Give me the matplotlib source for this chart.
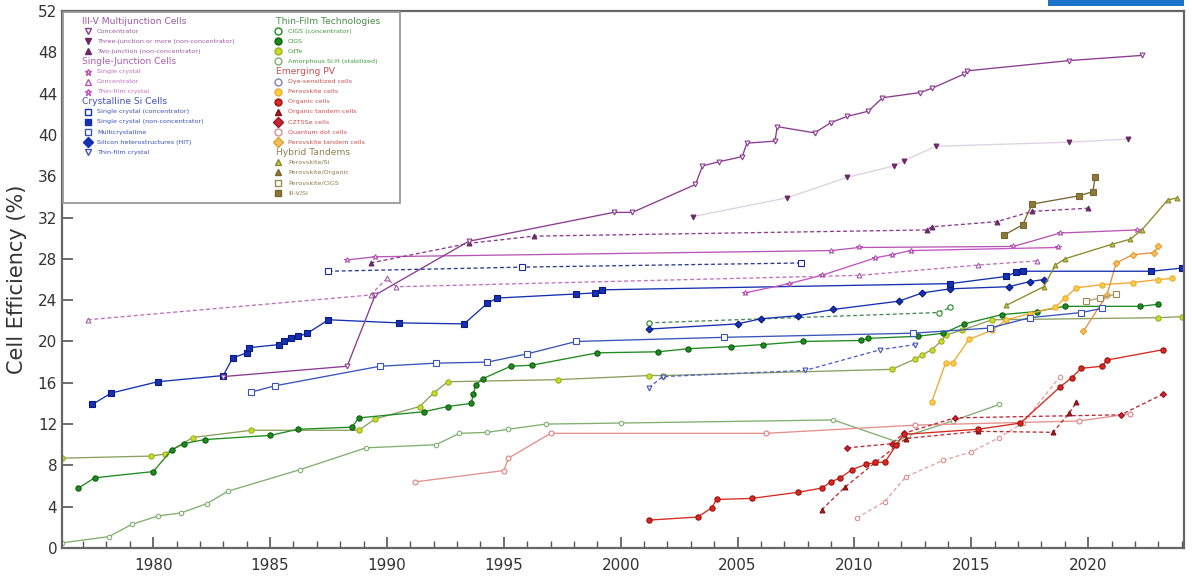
import matplotlib
matplotlib.use("Agg")
import matplotlib.pyplot as plt
from matplotlib.patches import Rectangle
from matplotlib.ticker import MultipleLocator

# ---------------- data (year, efficiency %) ----------------
iii_v_conc_year = [1983.0, 1988.3, 1989.5, 1993.5, 1999.7, 2000.5, 2003.2, 2003.5, 2004.2, 2005.2, 2005.4,
                   2006.6, 2006.7, 2008.3, 2009.0, 2009.7, 2010.6, 2011.2, 2012.8, 2013.3, 2014.7, 2014.8,
                   2019.2, 2022.3]
iii_v_conc_eff = [16.6, 17.6, 24.5, 29.7, 32.5, 32.5, 35.2, 37.0, 37.4, 37.9, 39.2,
                  39.4, 40.8, 40.2, 41.2, 41.8, 42.3, 43.6, 44.1, 44.5, 45.9, 46.2,
                  47.2, 47.7]
iii_v_3j_year = [2003.1, 2007.1, 2009.7, 2011.7, 2012.1, 2013.5, 2019.2, 2021.7]
iii_v_3j_eff = [32.1, 33.9, 35.9, 37.0, 37.5, 38.9, 39.3, 39.6]
iii_v_2j_year = [1989.3, 1993.5, 1996.3, 2013.1, 2013.3, 2016.1, 2017.6, 2020.0]
iii_v_2j_eff = [27.6, 29.5, 30.2, 30.8, 31.1, 31.6, 32.6, 32.9]

gaas_sc_year = [1988.3, 1989.5, 2009.0, 2010.2, 2016.8, 2018.8, 2022.1]
gaas_sc_eff = [27.9, 28.2, 28.8, 29.1, 29.2, 30.5, 30.8]
gaas_conc_year = [1977.2, 1989.3, 1990.0, 1990.4, 2010.2, 2015.3, 2017.8]
gaas_conc_eff = [22.1, 24.5, 26.1, 25.3, 26.4, 27.4, 27.8]
gaas_tf_year = [2005.3, 2007.2, 2008.6, 2010.9, 2011.6, 2012.4, 2018.7]
gaas_tf_eff = [24.7, 25.6, 26.4, 28.1, 28.4, 28.8, 29.1]

si_conc_year = [1987.5, 1995.8, 2007.7]
si_conc_eff = [26.8, 27.2, 27.6]
si_sc_year = [1977.4, 1978.2, 1980.2, 1983.0, 1983.4, 1984.0, 1984.1, 1985.4, 1985.6, 1985.9, 1986.2,
              1986.6, 1987.5, 1990.5, 1993.3, 1994.3, 1994.7, 1998.1, 1998.9, 1999.2, 2014.1, 2016.5,
              2016.9, 2017.2, 2022.7, 2024.0]
si_sc_eff = [13.9, 15.0, 16.1, 16.7, 18.4, 18.9, 19.4, 19.7, 20.0, 20.3, 20.5,
             20.8, 22.1, 21.8, 21.7, 23.7, 24.2, 24.6, 24.7, 25.0, 25.6, 26.3,
             26.7, 26.8, 26.8, 27.1]
si_mc_year = [1984.2, 1985.2, 1989.7, 1992.1, 1994.3, 1996.0, 1998.1, 2004.4, 2012.5, 2015.8, 2017.5,
              2019.7, 2020.6]
si_mc_eff = [15.1, 15.7, 17.6, 17.9, 18.0, 18.8, 20.0, 20.4, 20.8, 21.3, 22.3, 22.8, 23.2]
si_hit_year = [2001.2, 2005.0, 2006.0, 2007.6, 2009.1, 2011.9, 2012.9, 2014.1, 2016.6, 2017.5, 2018.1]
si_hit_eff = [21.2, 21.7, 22.2, 22.5, 23.1, 23.9, 24.7, 25.1, 25.3, 25.8, 26.0]
si_tf_year = [2001.2, 2001.8, 2007.9, 2011.1, 2012.6]
si_tf_eff = [15.5, 16.6, 17.2, 19.2, 19.7]

cigs_conc_year = [2001.2, 2013.6, 2014.1]
cigs_conc_eff = [21.8, 22.8, 23.3]
cigs_year = [1976.8, 1977.5, 1980.0, 1980.8, 1981.3, 1982.2, 1985.0, 1986.2, 1988.5, 1988.8, 1991.6,
             1992.6, 1993.6, 1993.7, 1993.8, 1994.1, 1995.3, 1996.2, 1999.0, 2001.6, 2002.9, 2004.7,
             2006.1, 2007.8, 2010.3, 2010.6, 2012.7, 2013.8, 2014.7, 2016.3, 2017.8, 2019.0, 2022.2,
             2023.0]
cigs_eff = [5.8, 6.8, 7.4, 9.5, 10.1, 10.5, 10.9, 11.5, 11.7, 12.6, 13.2,
            13.7, 14.0, 14.9, 15.8, 16.4, 17.6, 17.7, 18.9, 19.0, 19.3, 19.5,
            19.7, 20.0, 20.1, 20.3, 20.5, 20.8, 21.7, 22.6, 22.9, 23.4, 23.4,
            23.6]
cdte_year = [1976.1, 1979.9, 1980.5, 1981.7, 1984.2, 1988.8, 1989.5, 1991.4, 1992.0, 1992.6, 1997.3,
             2001.2, 2001.8, 2011.6, 2012.6, 2012.9, 2013.3, 2013.7, 2013.9, 2014.6, 2015.9, 2023.0,
             2024.0]
cdte_eff = [8.7, 8.9, 9.1, 10.7, 11.4, 11.4, 12.5, 13.7, 15.0, 16.1, 16.3,
            16.7, 16.7, 17.3, 18.3, 18.7, 19.2, 20.0, 20.6, 21.1, 22.1, 22.3,
            22.4]
asi_year = [1976.1, 1978.1, 1979.1, 1980.2, 1981.2, 1982.3, 1983.2, 1986.3, 1989.1, 1992.1, 1993.1,
            1994.3, 1995.2, 1996.8, 2000.0, 2009.1, 2011.8, 2012.3, 2014.2, 2016.2]
asi_eff = [0.5, 1.1, 2.3, 3.1, 3.4, 4.3, 5.5, 7.6, 9.7, 10.0, 11.1,
           11.2, 11.5, 12.0, 12.1, 12.4, 10.3, 10.9, 12.3, 13.9]

dye_year = [1991.2, 1995.0, 1995.2, 1997.0, 2006.2, 2012.6, 2019.6, 2021.8]
dye_eff = [6.4, 7.5, 8.7, 11.1, 11.1, 11.9, 12.3, 13.0]
perov_year = [2013.3, 2013.9, 2014.2, 2014.9, 2015.9, 2016.5, 2017.5, 2018.6, 2019.0, 2019.5, 2020.6,
              2021.9, 2023.0, 2023.6]
perov_eff = [14.1, 17.9, 17.9, 20.2, 21.1, 22.1, 22.7, 23.3, 24.2, 25.2, 25.5, 25.7, 26.0, 26.1]
organic_year = [2001.2, 2003.3, 2003.9, 2004.1, 2005.6, 2007.6, 2008.6, 2009.0, 2009.4, 2009.9, 2010.5,
                2010.9, 2011.3, 2011.8, 2012.1, 2015.3, 2017.1, 2018.8, 2019.3, 2019.7, 2020.6, 2020.8,
                2023.2]
organic_eff = [2.7, 3.0, 3.9, 4.7, 4.8, 5.4, 5.8, 6.4, 6.8, 7.6, 8.1,
               8.3, 8.3, 10.0, 11.0, 11.5, 12.1, 15.6, 16.5, 17.4, 17.6, 18.2,
               19.2]
org_tandem_year = [2008.6, 2009.6, 2010.9, 2012.2, 2015.3, 2018.5, 2019.2, 2019.5]
org_tandem_eff = [3.7, 5.9, 8.3, 10.6, 11.3, 11.2, 13.1, 14.1]
cztsse_year = [2009.7, 2011.6, 2012.1, 2014.3, 2021.4, 2023.2]
cztsse_eff = [9.7, 10.1, 11.1, 12.6, 12.9, 14.9]
qd_year = [2010.1, 2011.3, 2012.2, 2013.8, 2015.0, 2016.2, 2017.2, 2018.8]
qd_eff = [2.9, 4.5, 6.9, 8.5, 9.3, 10.7, 12.1, 16.6]
perov_tandem_year = [2019.8, 2020.8, 2021.2, 2021.9, 2022.8, 2023.0]
perov_tandem_eff = [21.0, 24.5, 27.6, 28.4, 28.6, 29.2]

perov_si_year = [2016.5, 2018.1, 2018.6, 2019.0, 2021.0, 2021.8, 2022.3, 2023.4, 2023.8]
perov_si_eff = [23.5, 25.3, 27.4, 28.0, 29.4, 29.9, 30.8, 33.7, 33.9]
perov_cigs_year = [2019.9, 2020.5, 2021.2]
perov_cigs_eff = [23.9, 24.2, 24.6]
iii_v_si_year = [2016.4, 2017.2, 2017.6, 2019.6, 2020.2, 2020.3]
iii_v_si_eff = [30.3, 31.3, 33.3, 34.1, 34.5, 35.9]

year_ticks = [1980, 1985, 1990, 1995, 2000, 2005, 2010, 2015, 2020]
eff_ticks = list(range(0, 53, 4))

# ---------------- styles ----------------
PURPLE = '#8a3b8f'
PINK = '#b856b8'
BLUE = '#1530b0'
BLUE2 = '#3a55b8'
GREEN = '#1f8a1f'
YGREEN = '#c8dc28'
LGREEN = '#7fb070'
RED = '#d42a1f'
ORANGE = '#f0a830'
OLIVE = '#8a8a2a'
BROWN = '#7a6530'

series = [
    # x, y, line color, linestyle, marker, marker face, marker edge, marker size
    (asi_year, asi_eff, LGREEN, '-', 'o', 'white', LGREEN, 3.2),
    (cdte_year, cdte_eff, '#8aa060', '-', 'o', YGREEN, '#a0b020', 3.8),
    (cigs_year, cigs_eff, GREEN, '-', 'o', GREEN, '#0f5f0f', 3.8),
    (cigs_conc_year, cigs_conc_eff, '#4a8a5a', '--', 'o', 'white', GREEN, 3.8),
    (dye_year, dye_eff, '#e4908c', '-', 'o', 'white', '#e08080', 3.5),
    (qd_year, qd_eff, '#e8a0a0', '--', 'o', 'white', '#d89090', 3.2),
    (cztsse_year, cztsse_eff, '#c02838', '--', 'D', '#c02838', '#a01020', 3.0),
    (org_tandem_year, org_tandem_eff, '#b83030', '--', '^', '#a02020', '#801010', 3.5),
    (organic_year, organic_eff, RED, '-', 'o', RED, '#a01010', 3.8),
    (perov_year, perov_eff, ORANGE, '-', 'o', '#f8d040', ORANGE, 3.8),
    (perov_tandem_year, perov_tandem_eff, '#e89040', '-', 'D', '#f0c060', '#e0a030', 3.3),
    (si_tf_year, si_tf_eff, '#5060c8', '--', 'v', 'white', '#4050c0', 3.5),
    (si_mc_year, si_mc_eff, BLUE2, '-', 's', 'white', BLUE2, 3.8),
    (si_hit_year, si_hit_eff, BLUE, '-', 'D', BLUE, '#0a1a80', 3.5),
    (si_sc_year, si_sc_eff, BLUE, '-', 's', BLUE, '#0a1a80', 4.0),
    (si_conc_year, si_conc_eff, '#2a3a90', '--', 's', 'white', '#1a2a90', 4.0),
    (gaas_conc_year, gaas_conc_eff, '#c070c0', '--', '^', 'white', '#a060a0', 3.5),
    (gaas_tf_year, gaas_tf_eff, '#c455c4', '-', '*', 'white', '#b050b0', 4.2),
    (gaas_sc_year, gaas_sc_eff, PINK, '-', '*', 'white', PINK, 4.2),
    (iii_v_2j_year, iii_v_2j_eff, PURPLE, '--', '^', '#6a2a6a', '#6a2a6a', 3.5),
    (iii_v_3j_year, iii_v_3j_eff, '#ddd2e2', '-', 'v', '#6a2a6a', '#6a2a6a', 3.5),
    (iii_v_conc_year, iii_v_conc_eff, PURPLE, '-', 'v', 'white', PURPLE, 3.5),
    (perov_cigs_year, perov_cigs_eff, '#b0a070', '-', 's', 'white', '#9a8a50', 3.8),
    (perov_si_year, perov_si_eff, OLIVE, '-', '^', '#c8c050', OLIVE, 3.5),
    (iii_v_si_year, iii_v_si_eff, BROWN, '-', 's', '#8a7a3a', BROWN, 4.2),
]

fig = plt.figure(figsize=(11.92, 5.76), dpi=100)
ax = fig.add_axes([62 / 1192, 1 - 548 / 576, 1122 / 1192, 537 / 576])

for xs, ys, lc, ls, mk, mfc, mec, ms in series:
    ax.plot(xs, ys, color=lc, linestyle=ls, linewidth=0.95, marker=mk, markerfacecolor=mfc,
            markeredgecolor=mec, markersize=ms, markeredgewidth=0.8,
            dashes=(3, 2) if ls == '--' else (None, None))

ax.set_xlim(1976.1, 2024.1)
ax.set_ylim(0, 52)
ax.set_xticks(year_ticks)
ax.set_yticks(eff_ticks)
ax.xaxis.set_minor_locator(MultipleLocator(1))
ax.tick_params(axis='both', which='major', direction='in', length=8, width=1.2, colors='#555555',
               labelsize=11, labelcolor='#333333')
ax.tick_params(axis='x', which='minor', direction='in', length=5, width=1.0, colors='#555555')
ax.tick_params(axis='x', which='major', pad=7)
for s in ax.spines.values():
    s.set_color('#666666')
    s.set_linewidth(1.6)
ax.set_ylabel('Cell Efficiency (%)', fontsize=15, color='#333333', labelpad=8)

# ---------------- legend (drawn panel) ----------------
def fx(px):
    return (px - 62) / 1122.0

def fy(py):
    return (548 - py) / 537.0

ax.add_patch(Rectangle((fx(63), fy(203)), fx(400) - fx(63), fy(12) - fy(203), transform=ax.transAxes,
                       facecolor='white', edgecolor='#999999', linewidth=1.3, zorder=20))

left_items = [
    ('h', 'III-V Multijunction Cells', PURPLE),
    ('e', 'Concentrator', PURPLE, 'v', 'white', PURPLE),
    ('e', 'Three-junction or more (non-concentrator)', PURPLE, 'v', '#6a2a6a', '#6a2a6a'),
    ('e', 'Two-junction (non-concentrator)', PURPLE, '^', '#6a2a6a', '#6a2a6a'),
    ('h', 'Single-Junction Cells', '#a040a0'),
    ('e', 'Single crystal', PINK, '*', 'white', PINK),
    ('e', 'Concentrator', PINK, '^', 'white', PINK),
    ('e', 'Thin-film crystal', PINK, '*', 'white', '#c455c4'),
    ('h', 'Crystalline Si Cells', '#2233aa'),
    ('e', 'Single crystal (concentrator)', BLUE, 's', 'white', BLUE),
    ('e', 'Single crystal (non-concentrator)', BLUE, 's', BLUE, BLUE),
    ('e', 'Multicrystalline', BLUE, 's', 'white', BLUE2),
    ('e', 'Silicon heterostructures (HIT)', BLUE, 'D', BLUE, BLUE),
    ('e', 'Thin-film crystal', BLUE, 'v', 'white', '#4050c0'),
]
right_items = [
    ('h', 'Thin-Film Technologies', '#2a7a2a'),
    ('e', 'CIGS (concentrator)', GREEN, 'o', 'white', GREEN),
    ('e', 'CIGS', GREEN, 'o', GREEN, '#0f5f0f'),
    ('e', 'CdTe', GREEN, 'o', YGREEN, '#a0b020'),
    ('e', 'Amorphous Si:H (stabilized)', GREEN, 'o', 'white', LGREEN),
    ('h', 'Emerging PV', '#c03030'),
    ('e', 'Dye-sensitized cells', '#c03030', 'o', 'white', '#8080c0'),
    ('e', 'Perovskite cells', '#c03030', 'o', '#f8d040', ORANGE),
    ('e', 'Organic cells', '#c03030', 'o', RED, '#a01010'),
    ('e', 'Organic tandem cells', '#c03030', '^', '#a02020', '#801010'),
    ('e', 'CZTSSe cells', '#c03030', 'D', '#c02838', '#a01020'),
    ('e', 'Quantum dot cells', '#c03030', 'o', 'white', '#d89090'),
    ('e', 'Perovskite tandem cells', '#c03030', 'D', '#f0c060', '#e0a030'),
    ('h', 'Hybrid Tandems', '#7a6a30'),
    ('e', 'Perovskite/Si', BROWN, '^', '#c8c050', OLIVE),
    ('e', 'Perovskite/Organic', BROWN, '^', '#8a7a3a', BROWN),
    ('e', 'Perovskite/CIGS', BROWN, 's', 'white', '#9a8a50'),
    ('e', 'III-V/Si', BROWN, 's', '#8a7a3a', BROWN),
]

def draw_col(items, x_head, x_mark, x_text, y0):
    y = y0
    for it in items:
        if it[0] == 'h':
            ax.text(fx(x_head), fy(y), it[1], transform=ax.transAxes, fontsize=6.6, color=it[2],
                    va='center', ha='left', zorder=22, alpha=0.85)
        else:
            ax.plot([fx(x_mark)], [fy(y)], transform=ax.transAxes, marker=it[3], markersize=5,
                    markerfacecolor=it[4], markeredgecolor=it[5], markeredgewidth=1.0,
                    linestyle='none', zorder=22, clip_on=False)
            ax.text(fx(x_text), fy(y), it[1], transform=ax.transAxes, fontsize=4.6, color=it[2],
                    va='center', ha='left', zorder=22, alpha=0.85)
        y += 10.1

draw_col(left_items, 82, 88, 97, 21)
draw_col(right_items, 276, 278, 288, 21)

# NREL banner stub at top right
fig.patches.append(Rectangle((1048 / 1192, 1 - 6 / 576), 136 / 1192, 6 / 576, transform=fig.transFigure,
                             facecolor='#1a73c8', edgecolor='none'))

fig.savefig('out.png', dpi=100)
